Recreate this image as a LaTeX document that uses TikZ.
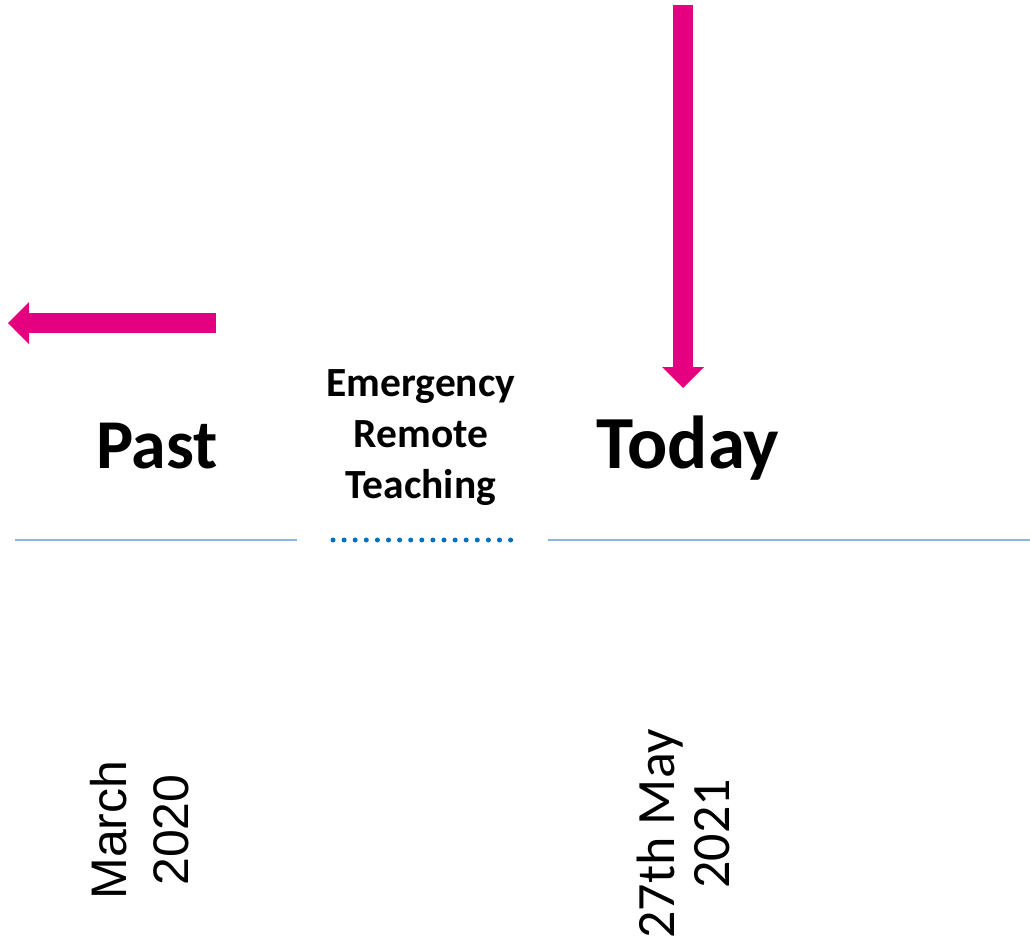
\documentclass[tikz,border=0pt]{standalone}
\usepackage{fontspec}
\setmainfont{Carlito}
\newfontfamily\arialfont{Liberation Sans}
\usepackage{tikz}
\usetikzlibrary{arrows.meta,positioning}
\usepackage{xcolor}
\definecolor{pink}{RGB}{228,0,127}
\definecolor{paleblue}{RGB}{143,180,222}
\definecolor{darkblue}{RGB}{0,112,192}
\tikzset{
  big/.style={font=\fontsize{70}{84}\selectfont\bfseries, inner sep=0pt},
  mid/.style={font=\fontsize{41.5}{51}\selectfont\bfseries, align=center, inner sep=0pt},
  datetxt/.style={rotate=90, align=center, inner sep=0pt},
  fatarr/.style={line width=20pt, color=pink,
                 -{Triangle[length=21pt,width=42pt,line width=0pt]}},
  axis/.style={line width=2pt, color=paleblue},
  gap/.style={line width=5pt, color=darkblue, line cap=round,
              dash pattern=on 0pt off 11.1pt},
}
\begin{document}
\begin{tikzpicture}[x=1pt, y=-1pt]
    \useasboundingbox (0,0) rectangle (1030,942);
    % labels
    \node[big, anchor=base] (past)  at (157,468) {Past};
    \node[big, anchor=base, font=\fontsize{75}{90}\selectfont\bfseries] (today) at (688,468) {Today};
    \node[mid] (ert) at (421,438) {Emergency\\Remote\\Teaching};
    \node[datetxt, font=\arialfont\fontsize{50}{62}\selectfont] (mar) at (140,830) {March\\2020};
    \node[datetxt, font=\fontsize{54}{55}\selectfont] (may) at (683,834) {27th May\\2021};
    % arrows
    \coordinate (pastS) at (216,323); \coordinate (pastE) at (8,323);
    \coordinate (nowS)  at (683,5);   \coordinate (nowE)  at (683,388);
    \draw[fatarr] (pastS) -- (pastE);
    \draw[fatarr] (nowS) -- (nowE);
    % time line
    \coordinate (l1) at (15,540);  \coordinate (l2) at (297,540);
    \coordinate (l3) at (548,540); \coordinate (l4) at (1030,540);
    \coordinate (d1) at (333,540); \coordinate (d2) at (513,540);
    \draw[axis] (l1) -- (l2);
    \draw[axis] (l3) -- (l4);
    \draw[gap] (d1) -- (d2);
\end{tikzpicture}
\end{document}
